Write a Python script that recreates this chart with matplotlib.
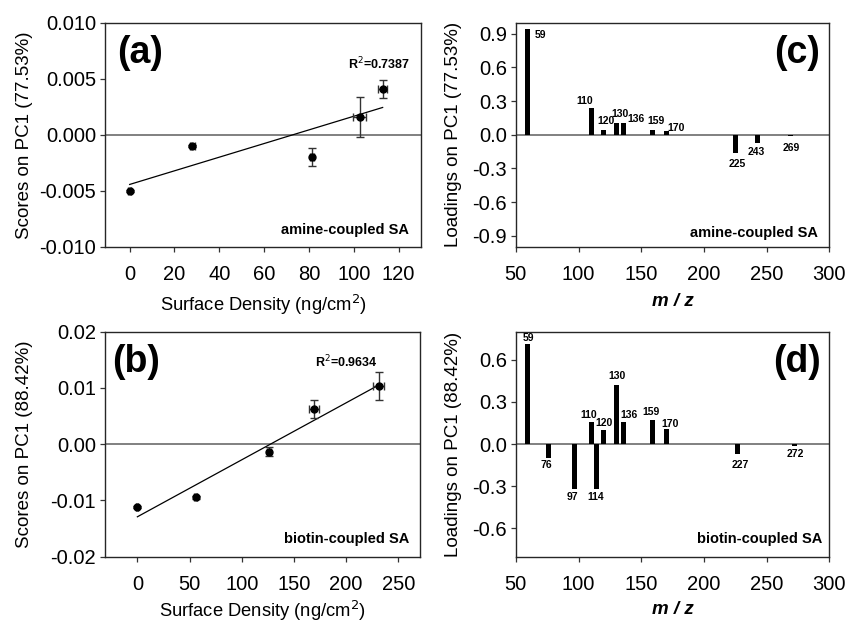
import numpy as np
import matplotlib
matplotlib.use('Agg')
import matplotlib.pyplot as plt

plt.rcParams['font.family'] = ['Liberation Sans', 'DejaVu Sans']

# PC1 scores vs surface density
a_density = [0, 28, 81.5, 102.6, 112.9]
a_density_err = [0.8, 1.2, 0.8, 2.8, 2.0]
a_score = [-0.0050, -0.0010, -0.0020, 0.00156, 0.00406]
a_score_err = [0.0001, 0.0001, 0.0008, 0.0018, 0.0008]

b_density = [0, 56, 126, 169.3, 231.5]
b_density_err = [1.0, 1.5, 2.0, 5.0, 5.3]
b_score = [-0.0112, -0.0095, -0.0014, 0.0062, 0.0103]
b_score_err = [0.0002, 0.0002, 0.0008, 0.0016, 0.0025]

# PC1 loadings by m/z
c_mz = [59, 110, 120, 130, 136, 159, 170, 225, 243, 269]
c_load = [0.944, 0.238, 0.039, 0.104, 0.104, 0.042, 0.030, -0.160, -0.074, -0.015]
d_mz = [59, 76, 97, 110, 114, 120, 130, 136, 159, 170, 227, 272]
d_load = [0.713, -0.100, -0.318, 0.156, -0.318, 0.100, 0.419, 0.159, 0.173, 0.111, -0.073, -0.012]

# peak label nudges (dx in m/z, dy in loading units)
c_nudge = [(10.7, -0.05), (-5.2, 0.062), (2, 0.083), (3.5, 0.085), (9.8, 0.04),
           (2.7, 0.08), (8, 0.032), (1.6, -0.098), (-1, -0.08), (0.5, -0.104)]
d_nudge = [(0.8, 0.041), (-1.3, -0.052), (-1.8, -0.059), (-1.8, 0.053), (-0.4, -0.059),
           (0.7, 0.049), (1.1, 0.067), (3.9, 0.045), (-1, 0.059), (2.9, 0.029),
           (1.7, -0.076), (1.1, -0.059)]

fig = plt.figure(figsize=(8.47, 6.22), dpi=100)
ax_a = fig.add_axes([0.124, 0.603, 0.373, 0.3606])
ax_b = fig.add_axes([0.124, 0.1053, 0.372, 0.3614])
ax_c = fig.add_axes([0.609, 0.603, 0.370, 0.3606])
ax_d = fig.add_axes([0.609, 0.1053, 0.370, 0.3614])


def style(ax):
    for s in ax.spines.values():
        s.set_color('0.15')
        s.set_linewidth(1.0)
    ax.tick_params(direction='out', length=3.5, width=0.9, color='0.2', labelsize=14.5)
    ax.tick_params(axis='x', pad=9.5)
    ax.tick_params(axis='y', pad=3)
    ax.axhline(0, color='0.5', lw=1.4, zorder=1)


def scores(ax, x, xe, y, ye, r2, tag, label, xlim, ylim, xt, yt, yfmt, xlab_y):
    style(ax)
    k, b = np.polyfit(x, y, 1)
    xs = np.array([min(x), max(x)])
    ax.plot(xs, k * xs + b, color='black', lw=0.9, zorder=2)
    ax.errorbar(x, y, xerr=xe, yerr=ye, fmt='o', color='black', ms=5,
                ecolor='0.2', elinewidth=1.0, capsize=3, capthick=1.0, zorder=3)
    ax.set_xlim(*xlim)
    ax.set_ylim(*ylim)
    ax.set_xticks(xt)
    ax.set_yticks(yt)
    ax.set_yticklabels([yfmt % v for v in yt])
    ax.set_xlabel('Surface Density (ng/cm$^2$)', fontsize=13.2)
    ax.xaxis.set_label_coords(0.5, xlab_y)
    ax.text(tag[0], tag[1], tag[2], transform=ax.transAxes, fontsize=27,
            fontweight='bold', ha='center', va='center')
    ax.text(r2[0], r2[1], r2[2], transform=ax.transAxes, fontsize=9,
            fontweight='bold', ha='center', va='center')
    ax.text(label[0], label[1], label[2], transform=ax.transAxes, fontsize=10.5,
            fontweight='bold', ha='right', va='center')


def loadings(ax, mz, load, nudge, tag, label, ylim, yt, xlab_y):
    style(ax)
    ax.bar(mz, load, width=4, color='black', zorder=2)
    for m, v, (dx, dy) in zip(mz, load, nudge):
        ax.text(m + dx, v + dy, str(m), fontsize=7.5, fontweight='bold',
                ha='center', va='center', zorder=4)
    ax.set_xlim(50, 300)
    ax.set_ylim(*ylim)
    ax.set_xticks([50, 100, 150, 200, 250, 300])
    ax.set_yticks(yt)
    ax.set_yticklabels(['%.1f' % v for v in yt])
    ax.set_xlabel('m / z', fontsize=13.5, fontweight='bold', style='italic')
    ax.xaxis.set_label_coords(0.5, xlab_y)
    ax.text(tag[0], tag[1], tag[2], transform=ax.transAxes, fontsize=27,
            fontweight='bold', ha='center', va='center')
    ax.text(label[0], label[1], label[2], transform=ax.transAxes, fontsize=10.5,
            fontweight='bold', ha='right', va='center')


scores(ax_a, a_density, a_density_err, a_score, a_score_err,
       (0.866, 0.815, 'R$^2$=0.7387'), (0.11, 0.865, '(a)'),
       (0.963, 0.076, 'amine-coupled SA'),
       (-11, 130), (-0.010, 0.010), [0, 20, 40, 60, 80, 100, 120],
       [-0.010, -0.005, 0.0, 0.005, 0.010], '%.3f', -0.207)
ax_a.set_ylabel('Scores on PC1 (77.53%)', fontsize=13.5)
ax_a.yaxis.set_label_coords(-0.228, 0.5)

scores(ax_b, b_density, b_density_err, b_score, b_score_err,
       (0.766, 0.864, 'R$^2$=0.9634'), (0.10, 0.866, '(b)'),
       (0.966, 0.08, 'biotin-coupled SA'),
       (-31, 271), (-0.02, 0.02), [0, 50, 100, 150, 200, 250],
       [-0.02, -0.01, 0.0, 0.01, 0.02], '%.2f', -0.19)
ax_b.set_ylabel('Scores on PC1 (88.42%)', fontsize=13.5)
ax_b.yaxis.set_label_coords(-0.228, 0.5)

loadings(ax_c, c_mz, c_load, c_nudge, (0.896, 0.866, '(c)'),
         (0.965, 0.064, 'amine-coupled SA'), (-1.0, 1.0),
         [-0.9, -0.6, -0.3, 0.0, 0.3, 0.6, 0.9], -0.207)
ax_c.set_ylabel('Loadings on PC1 (77.53%)', fontsize=13.5)
ax_c.yaxis.set_label_coords(-0.173, 0.5)

loadings(ax_d, d_mz, d_load, d_nudge, (0.896, 0.866, '(d)'),
         (0.979, 0.08, 'biotin-coupled SA'), (-0.8, 0.8),
         [-0.6, -0.3, 0.0, 0.3, 0.6], -0.198)
ax_d.set_ylabel('Loadings on PC1 (88.42%)', fontsize=13.5)
ax_d.yaxis.set_label_coords(-0.173, 0.5)

fig.savefig('out.png', dpi=100)
